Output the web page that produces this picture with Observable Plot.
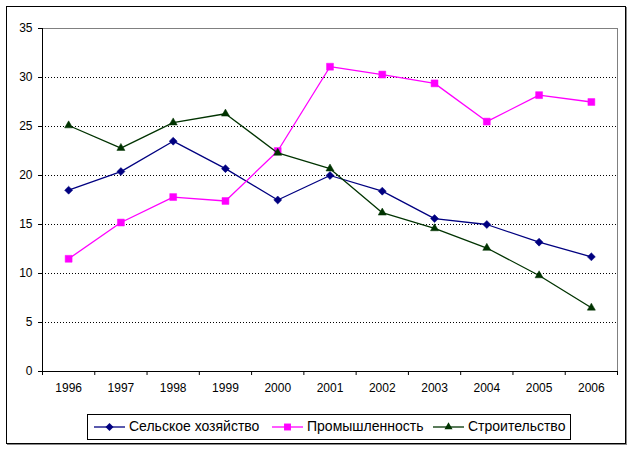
<!DOCTYPE html>
<html>
<head>
<meta charset="utf-8">
<script src="https://cdn.jsdelivr.net/npm/d3@7"></script>
<script src="https://cdn.jsdelivr.net/npm/@observablehq/plot@0.6"></script>
<style>
  html, body { margin: 0; padding: 0; background: #fff; }
  body { width: 634px; height: 450px; position: relative; overflow: hidden; font-family: "Liberation Sans", Arial, sans-serif; }
  #chart { position: absolute; left: 0; top: 0; }
  #frame { position: absolute; left: 6px; top: 6px; width: 618px; height: 436px; border: 1px solid #000; box-shadow: 1px 1px 0 #888; pointer-events: none; }
  #legend { position: absolute; left: 87px; top: 414px; width: 482px; height: 24px; border: 1px solid #000; font-size: 14px; color: #000; white-space: nowrap; }
  .sw { position: absolute; top: 6px; }
  .lt { position: absolute; top: 3px; line-height: 16px; }
</style>
</head>
<body>
<div id="chart"></div>
<div id="frame"></div>
<div id="legend"></div>
<script>
const years = [1996, 1997, 1998, 1999, 2000, 2001, 2002, 2003, 2004, 2005, 2006];
const seriesNames = ["Сельское хозяйство", "Промышленность", "Строительство"];
const agriculture = [18.5, 20.4, 23.5, 20.7, 17.5, 20.0, 18.4, 15.6, 15.0, 13.2, 11.7];
const industry = [11.5, 15.2, 17.8, 17.4, 22.5, 31.1, 30.3, 29.4, 25.5, 28.2, 27.5];
const construction = [25.1, 22.8, 25.4, 26.3, 22.3, 20.7, 16.2, 14.6, 12.6, 9.8, 6.5];
const yTicks = [0, 5, 10, 15, 20, 25, 30, 35];

const colors = ["#000080", "#FF00FF", "#003300"];
const symbols = ["diamond2", "square", "triangle"];
const radii = [3.6, 3.9, 3.0];
const valuesList = [agriculture, industry, construction];

const data = [];
seriesNames.forEach((name, i) => {
  years.forEach((y, j) => data.push({series: name, year: y, value: valuesList[i][j]}));
});

const boundaries = [years[0] - 0.5, ...years.map(y => y + 0.5)];
const gridTicks = yTicks.filter(v => v > 0 && v < 35);

const marks = [
  Plot.ruleY(gridTicks, {y: d => d, stroke: "#000", strokeWidth: 1, strokeDasharray: "1,2"}),
  Plot.ruleY([35], {stroke: "#808080", strokeWidth: 1}),
  Plot.ruleX([years[years.length - 1] + 0.5], {stroke: "#808080", strokeWidth: 1}),
  Plot.axisY({ticks: yTicks, tickSize: 4, tickPadding: 6, tickFormat: d => String(d), fontSize: 12, label: null, stroke: "#000"}),
  Plot.axisX({ticks: boundaries, tickSize: 4, tickFormat: () => "", label: null}),
  Plot.axisX({ticks: years, tickSize: 0, tickPadding: 12, tickFormat: d => String(d), fontSize: 12, label: null}),
  Plot.ruleX([years[0] - 0.5], {stroke: "#000", strokeWidth: 1}),
  Plot.ruleY([0], {stroke: "#000", strokeWidth: 1})
];

seriesNames.forEach((name, i) => {
  const sub = data.filter(d => d.series === name);
  marks.push(Plot.line(sub, {x: "year", y: "value", stroke: colors[i], strokeWidth: 1.3}));
  marks.push(Plot.dot(sub, {x: "year", y: "value", symbol: () => symbols[i], r: radii[i], fill: colors[i], stroke: colors[i], strokeWidth: 0.5}));
});

const chart = Plot.plot({
  width: 634,
  height: 400,
  marginLeft: 42,
  marginRight: 17,
  marginTop: 28,
  marginBottom: 29,
  style: {fontFamily: "'Liberation Sans', Arial, sans-serif", fontSize: "12px", color: "#000", background: "transparent"},
  x: {type: "linear", domain: [years[0] - 0.5, years[years.length - 1] + 0.5]},
  y: {domain: [0, 35]},
  symbol: {type: "identity"},
  marks
});
document.getElementById("chart").appendChild(chart);

// Legend
const legend = document.getElementById("legend");
const swX = [6, 184, 345];
seriesNames.forEach((name, i) => {
  const sw = d3.create("svg").attr("class", "sw").attr("width", 31).attr("height", 12).style("left", swX[i] + "px");
  sw.append("line").attr("x1", 0).attr("x2", 31).attr("y1", 6).attr("y2", 6).attr("stroke", colors[i]).attr("stroke-width", 1.3);
  sw.append("path").attr("transform", "translate(15.5,6)")
    .attr("d", d3.symbol(i === 0 ? d3.symbolDiamond2 : i === 1 ? d3.symbolSquare : d3.symbolTriangle, radii[i] * radii[i] * Math.PI)())
    .attr("fill", colors[i]);
  legend.appendChild(sw.node());
  const t = document.createElement("span");
  t.className = "lt";
  t.style.left = (swX[i] + 35) + "px";
  t.textContent = name;
  legend.appendChild(t);
});
</script>
</body>
</html>
